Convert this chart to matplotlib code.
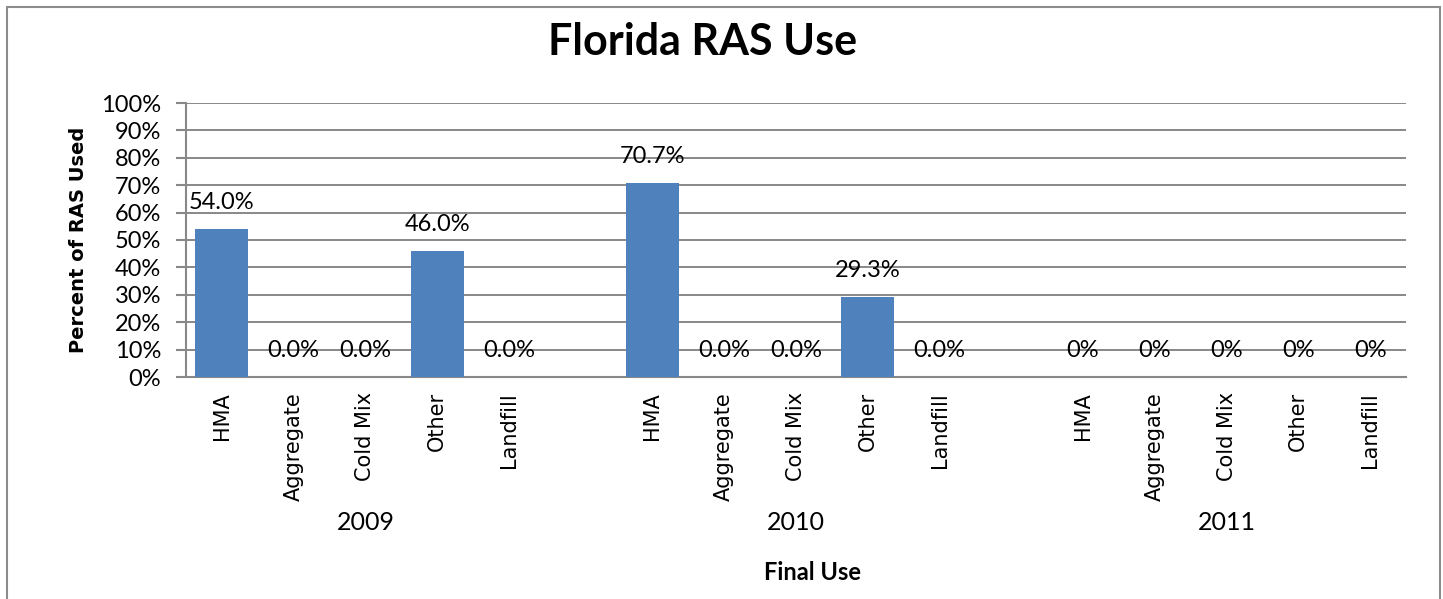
import matplotlib
matplotlib.use('Agg')
import matplotlib.pyplot as plt
from matplotlib.patches import Rectangle
from matplotlib.transforms import blended_transform_factory

# data
years = ['2009', '2010', '2011']
uses = ['HMA', 'Aggregate', 'Cold Mix', 'Other', 'Landfill']
share_2009 = [54.0, 0.0, 0.0, 46.0, 0.0]
share_2010 = [70.7, 0.0, 0.0, 29.3, 0.0]
share_2011 = [0, 0, 0, 0, 0]
label_fmt = ['{:.1f}%', '{:.1f}%', '{:.0f}%']
yticks = list(range(0, 101, 10))

BLUE = '#4F81BD'
GRID = '#888888'
NUM_FONT = 'Lato'

fig = plt.figure(figsize=(14.43, 5.99), dpi=100)
ax = fig.add_axes([186 / 1443, 1 - 377 / 599, (1406 - 186) / 1443, (377 - 103) / 599])

# outer chart border (bottom edge is cropped off in the original)
fig.patches.append(Rectangle((7 / 1443, -0.05), (1440 - 7) / 1443, 1.05 - 7 / 599,
                             transform=fig.transFigure, fill=False,
                             edgecolor='#8c8c8c', linewidth=1.5))

# each year takes 6 slots: 5 categories + 1 empty gap
slot = 6
xpos, xlab = [], []
for g, (vals, fmt) in enumerate(zip([share_2009, share_2010, share_2011], label_fmt)):
    xs = [g * slot + i for i in range(len(uses))]
    ax.bar(xs, vals, width=0.74, color=BLUE, zorder=3)
    for x, v in zip(xs, vals):
        ax.annotate(fmt.format(v), (x, v), xytext=(0, 19), textcoords='offset points',
                    ha='center', va='center', fontsize=17, family=NUM_FONT, zorder=4)
    xpos += xs
    xlab += uses

ax.set_xlim(-0.5, 2 * slot + len(uses) - 0.5)
ax.set_ylim(0, 100)
ax.set_yticks(yticks)
ax.set_yticklabels(['{}%'.format(t) for t in yticks])
ax.set_xticks(xpos)
ax.set_xticklabels(xlab, rotation=90)
for lbl in ax.get_xticklabels():
    lbl.set_family('DejaVu Sans')
    lbl.set_fontsize(15)
for lbl in ax.get_yticklabels():
    lbl.set_family(NUM_FONT)
    lbl.set_fontsize(17)
ax.tick_params(axis='x', length=0, pad=11)
ax.tick_params(axis='y', length=7, width=1.5, color=GRID, pad=11)

ax.yaxis.grid(True, color=GRID, linewidth=1.4, zorder=0)
ax.set_axisbelow(True)
for side in ['top', 'right']:
    ax.spines[side].set_visible(False)
for side in ['left', 'bottom']:
    ax.spines[side].set_color(GRID)
    ax.spines[side].set_linewidth(1.5)

# year labels under each group
trans = blended_transform_factory(ax.transData, fig.transFigure)
for g, yr in enumerate(years):
    ax.text(g * slot + 2, 1 - 522 / 599, yr, transform=trans, ha='center', va='center',
            fontsize=18, family=NUM_FONT)

fig.text(813 / 1443, 1 - 573 / 599, 'Final Use', ha='center', va='center',
         fontsize=17, fontweight='bold', family=NUM_FONT)
fig.text(78 / 1443, 1 - 240 / 599, 'Percent of RAS Used', rotation=90, ha='center',
         va='center', fontsize=14, fontweight='bold', family='DejaVu Sans')
fig.text(703 / 1443, 1 - 42 / 599, 'Florida RAS Use', ha='center', va='center',
         fontsize=31, fontweight='bold', family=NUM_FONT)

fig.savefig('out.png', dpi=100)
